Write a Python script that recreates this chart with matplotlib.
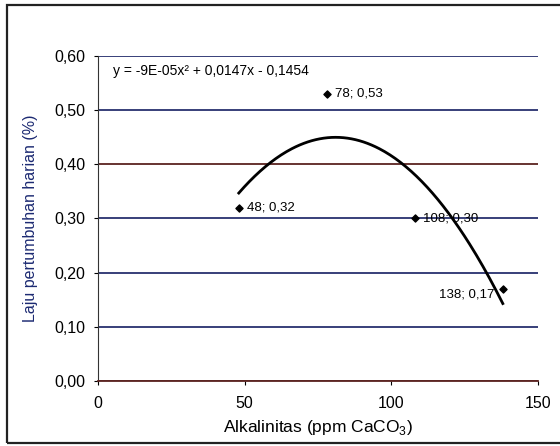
import numpy as np
import matplotlib
matplotlib.use('Agg')
import matplotlib.pyplot as plt
from matplotlib.patches import Rectangle
from matplotlib.ticker import FuncFormatter

plt.rcParams['font.family'] = ['Liberation Sans', 'DejaVu Sans']
plt.rcParams['mathtext.fontset'] = 'custom'
plt.rcParams['mathtext.rm'] = 'Liberation Sans'

# data
alkalinitas = [48, 78, 108, 138]
laju = [0.32, 0.53, 0.30, 0.17]
labels = ['48; 0,32', '78; 0,53', '108; 0,30', '138; 0,17']
equation = 'y = -9E-05x\u00b2 + 0,0147x - 0,1454'

y_ticks = [0.0, 0.1, 0.2, 0.3, 0.4, 0.5, 0.6]
x_ticks = [0, 50, 100, 150]

navy = '#27306e'
brown = '#5b2320'

fig = plt.figure(figsize=(5.6, 4.46), dpi=100)
ax = fig.add_axes([98 / 560, 1 - 381 / 446, 440 / 560, 325 / 446])

# outer chart frame (right edge runs off the scan)
fig.patches.append(Rectangle((7 / 560, 1 - 443 / 446), 570 / 560, 438 / 446,
                             transform=fig.transFigure, fill=False,
                             edgecolor='#222222', linewidth=1.6))

# gridlines
for yt in y_ticks:
    c = brown if yt in (0.0, 0.4) else navy
    ax.axhline(yt, color=c, linewidth=1.3, zorder=1)

# polynomial trendline (least squares, order 2)
coef = np.polyfit(alkalinitas, laju, 2)
xs = np.linspace(min(alkalinitas), max(alkalinitas), 200)
ax.plot(xs, np.polyval(coef, xs), color='black', linewidth=2, zorder=3)

ax.scatter(alkalinitas, laju, marker='D', s=13, color='black', zorder=4)

for x, y, lab in zip(alkalinitas, laju, labels):
    if x == 138:
        ax.annotate(lab, (x, y), xytext=(-6, -4), textcoords='offset points',
                    ha='right', va='center', fontsize=9.5)
    else:
        ax.annotate(lab, (x, y), xytext=(6, 0), textcoords='offset points',
                    ha='left', va='center', fontsize=9.5)

ax.text(0.035, 0.955, equation, transform=ax.transAxes, fontsize=10,
        ha='left', va='center')

ax.set_xlim(0, 150)
ax.set_ylim(0, 0.6)
ax.set_xticks(x_ticks)
ax.set_yticks(y_ticks)
ax.yaxis.set_major_formatter(FuncFormatter(lambda v, p: ('%.2f' % v).replace('.', ',')))
ax.tick_params(axis='both', direction='out', length=3, labelsize=11.5, pad=6)
ax.tick_params(axis='x', pad=8)

for s in ('top', 'right'):
    ax.spines[s].set_visible(False)
ax.spines['left'].set_color('#333333')
ax.spines['bottom'].set_color(brown)
ax.spines['bottom'].set_linewidth(1.3)

ax.set_xlabel('Alkalinitas (ppm CaCO$_3$)', fontsize=12.5, labelpad=5)
ax.set_ylabel('Laju pertumbuhan harian (%)', fontsize=11.5, color='#1c2a72',
              labelpad=12)

fig.savefig('out.png', dpi=100)
